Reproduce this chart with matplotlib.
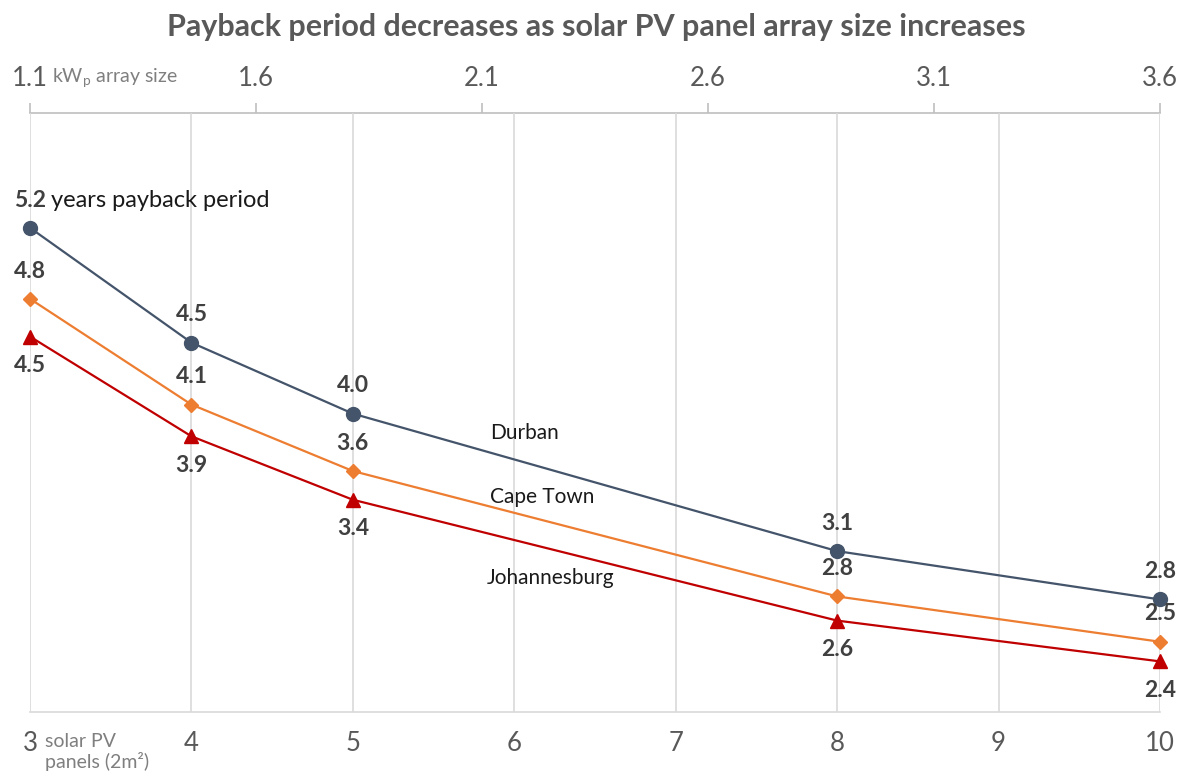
import matplotlib.pyplot as plt

plt.rcParams['font.family'] = ['Lato', 'DejaVu Sans']

# panels (bottom axis) and payback period in years
panels = [3, 4, 5, 8, 10]
durban = [5.24, 4.48, 4.01, 3.10, 2.78]
cape_town = [4.77, 4.07, 3.63, 2.80, 2.50]
johannesburg = [4.52, 3.86, 3.44, 2.64, 2.37]

bottom_ticks = [3, 4, 5, 6, 7, 8, 9, 10]
top_ticks = [1.1, 1.6, 2.1, 2.6, 3.1, 3.6]

GRAY = '#595959'
LABEL = '#404040'


def panels_to_kw(n):
    return 1.1 + (n - 3) * 2.5 / 7


def kw_to_panels(k):
    return 3 + (k - 1.1) * 7 / 2.5


fig = plt.figure(figsize=(11.87, 7.78), dpi=100)
ax = fig.add_axes([30 / 1187, 1 - 712 / 778, 1130 / 1187, 599 / 778])

ax.set_xlim(3, 10)
ax.set_ylim(2.035, 6.0)

series = [
    (durban, '#44546A', 'o', 10, 'above'),
    (cape_town, '#ED7D31', 'D', 7, 'above'),
    (johannesburg, '#C00000', '^', 10, 'below'),
]
for vals, col, mk, ms, pos in series:
    ax.plot(panels, vals, color=col, lw=1.6, marker=mk, markersize=ms,
            markeredgecolor=col, zorder=3, clip_on=False)
    for x, y in zip(panels, vals):
        dy = 20 if pos == 'above' else -21
        ax.annotate(f'{y:.1f}', (x, y), xytext=(0, dy), textcoords='offset points',
                    ha='center', va='center', fontsize=16.5, fontweight='bold',
                    color=LABEL, zorder=4)

# "years payback period" after first Durban label
ax.annotate('years payback period', (panels[0], durban[0]), xytext=(15, 20),
            textcoords='offset points', ha='left', va='center', fontsize=17,
            color='#1a1a1a')

# series names
ax.text(5.85, 3.88, 'Durban', fontsize=15, color='#1a1a1a', va='center')
ax.text(5.85, 3.46, 'Cape Town', fontsize=15, color='#1a1a1a', va='center')
ax.text(5.83, 2.92, 'Johannesburg', fontsize=15, color='#1a1a1a', va='center')

# axes styling
ax.set_xticks(bottom_ticks)
ax.set_xticklabels([str(t) for t in bottom_ticks])
ax.tick_params(axis='x', length=0, labelsize=18.5, labelcolor=GRAY, pad=14)
ax.set_yticks([])
ax.grid(axis='x', color='#D9D9D9', lw=1.2)
ax.set_axisbelow(True)
for s in ['left', 'right', 'top']:
    ax.spines[s].set_visible(False)
ax.spines['bottom'].set_color('#D9D9D9')
ax.spines['bottom'].set_linewidth(1.2)

sec = ax.secondary_xaxis('top', functions=(panels_to_kw, kw_to_panels))
sec.set_xticks(top_ticks)
sec.set_xticklabels([f'{t:.1f}' for t in top_ticks])
sec.tick_params(axis='x', length=7, width=1.2, color='#BFBFBF', labelsize=18.5,
                labelcolor=GRAY, pad=9)
sec.spines['top'].set_color('#BFBFBF')
sec.spines['top'].set_linewidth(1.2)

fig.text(52 / 1187, 1 - 78 / 778, 'kW$_\\mathregular{p}$ array size', fontsize=14,
         color='#7f7f7f', va='center', ha='left')
fig.text(45 / 1187, 1 - 752 / 778, 'solar PV\npanels (2m²)', fontsize=14,
         color='#7f7f7f', va='center', ha='left', linespacing=1.1)

fig.suptitle('Payback period decreases as solar PV panel array size increases',
             x=0.502, y=1 - 27 / 778, va='center', fontsize=22, fontweight='bold',
             color=GRAY)

fig.savefig('out.png', dpi=100)
